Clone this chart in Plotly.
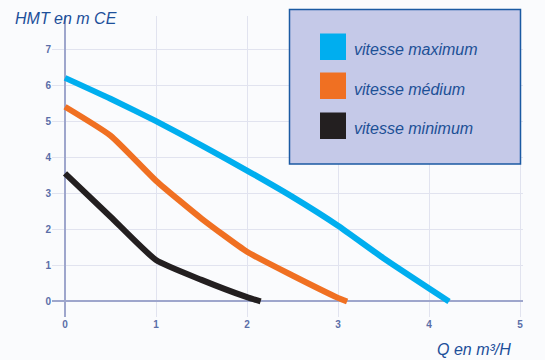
import plotly.graph_objects as go

# ---- data ----
q_max = [0, 0.5, 1, 1.5, 2, 2.5, 3, 3.5, 4.22]
h_max = [6.2, 5.62, 5.0, 4.33, 3.63, 2.9, 2.1, 1.2, 0]

q_med = [0, 0.5, 1, 1.5, 2, 2.5, 3, 3.1]
h_med = [5.4, 4.6, 3.35, 2.3, 1.38, 0.72, 0.1, 0]

q_min = [0, 0.5, 1, 1.5, 2, 2.15]
h_min = [3.55, 2.35, 1.15, 0.6, 0.12, 0]

series_names = ["vitesse maximum", "vitesse médium", "vitesse minimum"]
series_colors = ["#00aeef", "#f07022", "#231f20"]

x_ticks = [0, 1, 2, 3, 4, 5]
y_ticks = [0, 1, 2, 3, 4, 5, 6, 7]

y_title = "HMT en m CE"
x_title = "Q en m³/H"

W, H = 545, 360
ML, MR, MT, MB = 52, 22, 16, 43


def px(xp):
    return (xp - ML) / (W - ML - MR)


def py(yp):
    return (H - MB - yp) / (H - MT - MB)


fig = go.Figure()
for q, h, name, col in zip([q_max, q_med, q_min], [h_max, h_med, h_min],
                           series_names, series_colors):
    fig.add_trace(go.Scatter(x=q, y=h, mode="lines", name=name,
                             line=dict(color=col, width=6, shape="spline", smoothing=0.5),
                             showlegend=False, hoverinfo="skip"))

axis_common = dict(
    showgrid=True, gridcolor="#e1e3ef", gridwidth=1,
    zeroline=True, zerolinecolor="#9ea6cc", zerolinewidth=1.5,
    showline=False, ticks="",
    tickfont=dict(family="Liberation Sans, Arial", size=10, color="#5a6ea8",
                  weight="bold"),
    fixedrange=True,
)

fig.update_layout(
    width=W, height=H,
    margin=dict(l=ML, r=MR, t=MT, b=MB),
    paper_bgcolor="#fafbfd", plot_bgcolor="#fafbfd",
    xaxis=dict(range=[-0.143, 5.033], tickvals=x_ticks, **axis_common),
    yaxis=dict(range=[-0.43, 7.915], tickvals=y_ticks, **axis_common),
    showlegend=False,
)

title_font = dict(family="Liberation Sans, Arial", size=16, color="#1d4f9a", style="italic")
fig.add_annotation(text=y_title, xref="paper", yref="paper", x=px(13), y=py(19),
                   xanchor="left", yanchor="middle", showarrow=False, font=title_font)
fig.add_annotation(text=x_title, xref="paper", yref="paper", x=px(513), y=py(349),
                   xanchor="right", yanchor="middle", showarrow=False, font=title_font)

# legend box
fig.add_shape(type="rect", xref="paper", yref="paper",
              x0=px(289.5), x1=px(520.5), y0=py(164), y1=py(9.5),
              fillcolor="#c5c9e8", line=dict(color="#1b5aa3", width=1.5), layer="above")
sq_tops = [33.5, 72.5, 112.5]
txt_y = [49, 89, 128.5]
for name, col, top, ty in zip(series_names, series_colors, sq_tops, txt_y):
    fig.add_shape(type="rect", xref="paper", yref="paper",
                  x0=px(320), x1=px(346), y0=py(top + 26.5), y1=py(top),
                  fillcolor=col, line=dict(width=0), layer="above")
    fig.add_annotation(text=name, xref="paper", yref="paper", x=px(352), y=py(ty),
                       xanchor="left", yanchor="middle", showarrow=False,
                       font=dict(family="Liberation Sans, Arial", size=16,
                                 color="#1d5096", style="italic"))

fig.write_html("out.html", config={"displayModeBar": False},
               post_script="document.body.style.margin='0';document.body.style.overflow='hidden';")
